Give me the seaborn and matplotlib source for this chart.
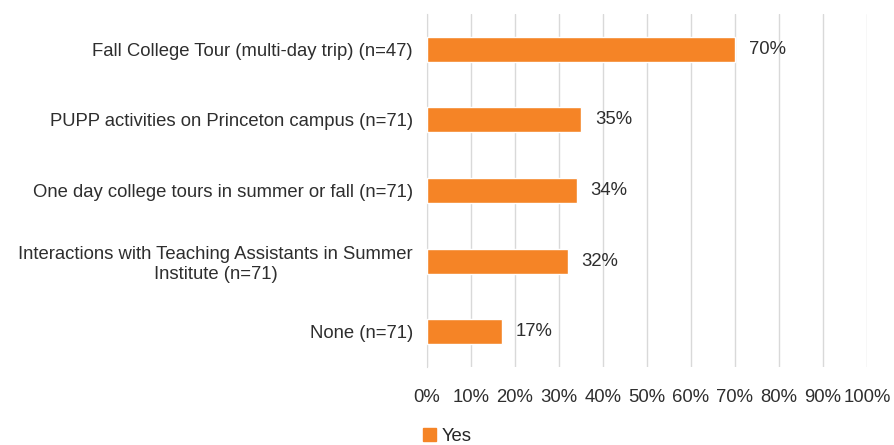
import numpy as np
import pandas as pd
import seaborn as sns
import matplotlib.pyplot as plt
from matplotlib.patches import Patch

categories = [
    "Fall College Tour (multi-day trip) (n=47)",
    "PUPP activities on Princeton campus (n=71)",
    "One day college tours in summer or fall (n=71)",
    "Interactions with Teaching Assistants in Summer\nInstitute (n=71)",
    "None (n=71)",
]
yes_pct = [70, 35, 34, 32, 17]
tick_values = list(range(0, 101, 10))

sns.set_style("white")
plt.rcParams['font.family'] = ['Liberation Sans', 'DejaVu Sans']
FS = 13.3
TXT = "#2E2E2E"

df = pd.DataFrame({"activity": categories, "Yes": yes_pct})

fig = plt.figure(figsize=(8.94, 4.45), dpi=100)
ax = fig.add_axes([0.4776, 0.175, 0.4922, 0.7935])

sns.barplot(data=df, x="Yes", y="activity", orient="h", color="#F58426",
            width=0.355, saturation=1, ax=ax, zorder=3)

ax.set_xlim(0, 100)
ax.set_ylim(len(categories) - 0.5, -0.5)
ax.set_xticks(tick_values)
ax.set_xticklabels([f"{v}%" for v in tick_values], fontsize=FS, color=TXT)
ax.tick_params(axis="x", length=0, pad=16)
ax.grid(axis="x", color="#D9D9D9", linewidth=1, zorder=0)

# category labels, plus separator ticks between categories
ax.set_yticks(range(len(categories)))
ax.set_yticklabels(categories, fontsize=FS, color=TXT, multialignment="center")
ax.tick_params(axis="y", length=0, pad=10)
ax.set_yticks(np.arange(-0.5, len(categories), 1), minor=True)
ax.tick_params(axis="y", which="minor", length=5, color="#D9D9D9", width=1)

for s in ["top", "right", "bottom"]:
    ax.spines[s].set_visible(False)
ax.spines["left"].set_color("#D9D9D9")
ax.set_xlabel("")
ax.set_ylabel("")

for i, v in enumerate(yes_pct):
    ax.annotate(f"{v}%", (v, i), xytext=(10, 0), textcoords="offset points",
                va="center", ha="left", fontsize=FS, color=TXT)

fig.legend(handles=[Patch(color="#F58426", label="Yes")], loc="center",
           bbox_to_anchor=(0.5, 0.02), frameon=False, fontsize=FS,
           handlelength=0.7, handleheight=0.7, handletextpad=0.3)

fig.savefig("out.png", dpi=100)
